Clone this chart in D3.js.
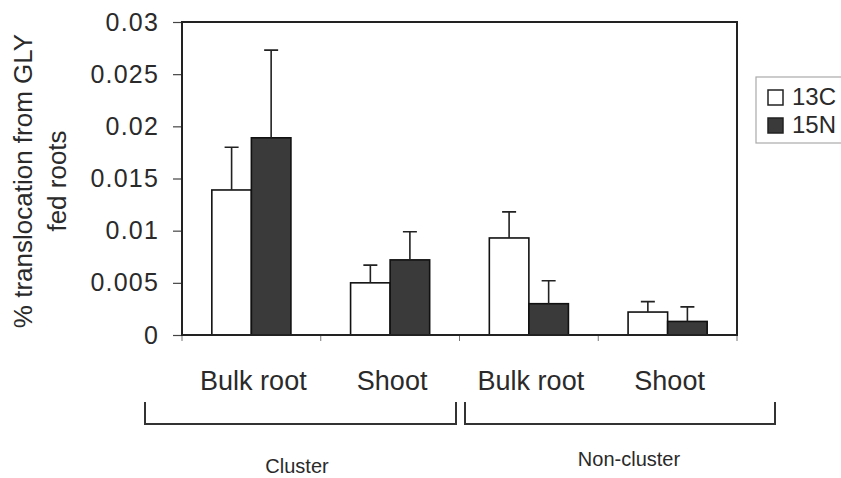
<!DOCTYPE html>
<html>
<head>
<meta charset="utf-8">
<script src="https://cdn.jsdelivr.net/npm/d3@7"></script>
<style>
  html, body { margin: 0; padding: 0; background: #ffffff; }
  svg { display: block; font-family: "Liberation Sans", Arial, Helvetica, sans-serif; }
</style>
</head>
<body>
<svg id="chart" width="841" height="478"></svg>
<script>
// ---- data ----
const categories = ["Bulk root", "Shoot", "Bulk root", "Shoot"];
const groups = ["Cluster", "Non-cluster"];
const seriesNames = ["13C", "15N"];
const values13C = [0.0139, 0.0050, 0.0093, 0.0022];
const values15N = [0.0189, 0.0072, 0.0030, 0.0013];
const errors13C = [0.0041, 0.0017, 0.0025, 0.0010];
const errors15N = [0.0084, 0.0027, 0.0022, 0.0014];
const yTickValues = [0, 0.005, 0.01, 0.015, 0.02, 0.025, 0.03];
const yTickLabels = ["0", "0.005", "0.01", "0.015", "0.02", "0.025", "0.03"];
const yTitleLines = ["% translocation from GLY", "fed roots"];

// ---- layout ----
const svg = d3.select("#chart");
const plot = { left: 182, right: 737, top: 22, bottom: 335 };
const textColor = "#2a2a2a";
const fills = { "13C": "#ffffff", "15N": "#3a3a3a" };

const rows = categories.map((c, i) => ({
  key: String(i), name: c,
  vals: [
    { s: "13C", v: values13C[i], e: errors13C[i] },
    { s: "15N", v: values15N[i], e: errors15N[i] }
  ]
}));

const x0 = d3.scaleBand()
  .domain(rows.map(r => r.key))
  .range([plot.left, plot.right])
  .paddingInner(0.43)
  .paddingOuter(0.215);
const x1 = d3.scaleBand().domain(seriesNames).range([0, x0.bandwidth()]);
const y = d3.scaleLinear().domain([0, 0.03]).range([plot.bottom, plot.top]);

// y axis
const yAxis = d3.axisLeft(y)
  .tickValues(yTickValues)
  .tickFormat((d, i) => yTickLabels[i])
  .tickSize(9).tickPadding(14);
const gy = svg.append("g").attr("transform", `translate(${plot.left},0)`).call(yAxis);
gy.select(".domain").remove();
gy.selectAll(".tick line").attr("stroke", "#444").attr("stroke-width", 1.2);
gy.selectAll(".tick text")
  .attr("fill", textColor)
  .style("font-size", "25px")
  .style("letter-spacing", "1.2px")
  .attr("font-family", null);

// x axis ticks at band boundaries
const step = x0.step();
const boundaries = d3.range(categories.length + 1).map(i =>
  i === 0 ? plot.left : (i === categories.length ? plot.right : x0(String(i)) - step * x0.paddingInner() / 2));
svg.append("g").selectAll("line").data(boundaries).join("line")
  .attr("x1", d => d).attr("x2", d => d)
  .attr("y1", plot.bottom).attr("y2", plot.bottom + 6)
  .attr("stroke", "#777").attr("stroke-width", 1);

// bars
const gBars = svg.append("g");
const catG = gBars.selectAll("g").data(rows).join("g")
  .attr("transform", d => `translate(${x0(d.key)},0)`);
catG.selectAll("rect").data(d => d.vals).join("rect")
  .attr("x", d => x1(d.s))
  .attr("y", d => y(d.v))
  .attr("width", x1.bandwidth())
  .attr("height", d => y(0) - y(d.v))
  .attr("fill", d => fills[d.s])
  .attr("stroke", "#111")
  .attr("stroke-width", 1.6);

// error bars (upper only)
const capW = 14;
catG.selectAll("path.err").data(d => d.vals).join("path")
  .attr("class", "err")
  .attr("d", d => {
    const cx = x1(d.s) + x1.bandwidth() / 2;
    const yt = y(d.v + d.e);
    return `M${cx},${y(d.v)}V${yt}M${cx - capW / 2},${yt}H${cx + capW / 2}`;
  })
  .attr("fill", "none").attr("stroke", "#222").attr("stroke-width", 1.6);

// plot frame
svg.append("rect")
  .attr("x", plot.left).attr("y", plot.top)
  .attr("width", plot.right - plot.left).attr("height", plot.bottom - plot.top)
  .attr("fill", "none").attr("stroke", "#222").attr("stroke-width", 2);

// category labels
svg.append("g").selectAll("text").data(rows).join("text")
  .attr("x", d => x0(d.key) + x0.bandwidth() / 2 + 2)
  .attr("y", 390)
  .attr("text-anchor", "middle")
  .attr("fill", textColor)
  .style("font-size", "27px")
  .text(d => d.name);

// group brackets
const brackets = [
  { x1: 145, x2: 456, label: groups[0], lx: 297, ly: 473 },
  { x1: 465, x2: 775, label: groups[1], lx: 629, ly: 466 }
];
svg.append("g").selectAll("path").data(brackets).join("path")
  .attr("d", d => `M${d.x1},402V424H${d.x2}V402`)
  .attr("fill", "none").attr("stroke", "#333").attr("stroke-width", 2);
svg.append("g").selectAll("text").data(brackets).join("text")
  .attr("x", d => d.lx).attr("y", d => d.ly)
  .attr("text-anchor", "middle")
  .attr("fill", textColor)
  .style("font-size", "20px")
  .text(d => d.label);

// y title
const yMid = 181;
svg.append("g").selectAll("text").data(yTitleLines).join("text")
  .attr("transform", (d, i) => `translate(${i === 0 ? 32 : 66},${yMid}) rotate(-90)`)
  .attr("text-anchor", "middle")
  .attr("fill", textColor)
  .style("font-size", "26px")
  .text(d => d);

// legend
const leg = svg.append("g");
leg.append("rect")
  .attr("x", 756).attr("y", 77).attr("width", 110).attr("height", 66)
  .attr("fill", "#fff").attr("stroke", "#aaa").attr("stroke-width", 1.2);
const li = leg.selectAll("g").data(seriesNames).join("g")
  .attr("transform", (d, i) => `translate(768,${90 + i * 28})`);
li.append("rect")
  .attr("width", 15).attr("height", 15)
  .attr("fill", d => fills[d])
  .attr("stroke", "#222").attr("stroke-width", 1.5);
li.append("text")
  .attr("x", 24).attr("y", 15)
  .attr("fill", textColor)
  .style("font-size", "24px")
  .text(d => d);
</script>
</body>
</html>
